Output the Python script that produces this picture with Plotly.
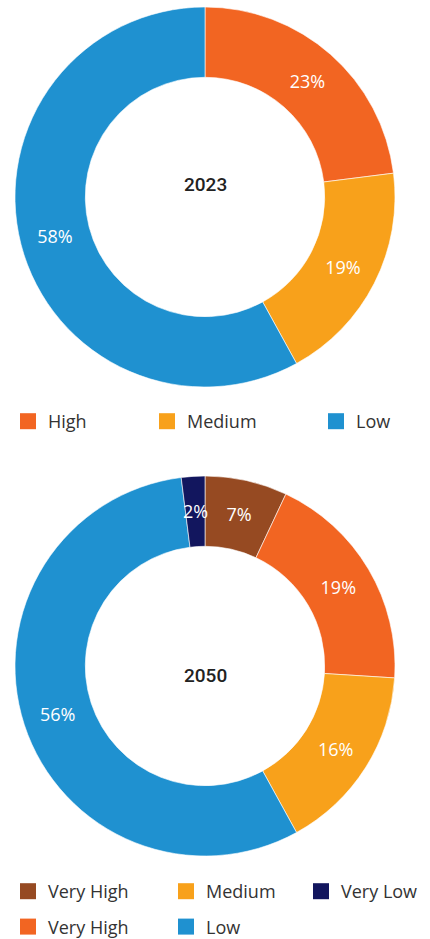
import math
import plotly.graph_objects as go

W, H = 430, 939

# Share of assets by risk level, 2023
labels_2023 = ["High", "Medium", "Low"]
values_2023 = [23, 19, 58]
colors_2023 = ["#F26522", "#F8A11B", "#1F91D0"]
legend_names_2023 = ["High", "Medium", "Low"]

# Share of assets by risk level, 2050
labels_2050 = ["Very High", "High", "Medium", "Low", "Very Low"]
values_2050 = [7, 19, 16, 56, 2]
colors_2050 = ["#964A22", "#F26522", "#F8A11B", "#1F91D0", "#12165E"]
legend_names_2050 = ["Very High", "Very High", "Medium", "Low", "Very Low"]

years = ["2023", "2050"]

SIZE = 380          # donut diameter, px
HOLE = 0.63
LEFT = 15           # left edge of both donuts, px
TOPS = [7, 476]     # top edge of each donut, px
TITLE_Y = [184.5, 675]
SMALL_SHARE = 0.03  # slices narrower than this get their label placed by hand
LABEL_SIZE = 18


def px_x(x):
    return x / W


def px_y(y):
    return 1 - y / H


def donut(labels, values, colors, top_px):
    total = sum(values)
    positions = ["inside" if v / total >= SMALL_SHARE else "none" for v in values]
    return go.Pie(
        labels=labels,
        values=values,
        marker=dict(colors=colors, line=dict(color="white", width=0.6)),
        hole=HOLE,
        sort=False,
        direction="clockwise",
        rotation=0,
        texttemplate="%{percent:.0%}",
        textposition=positions,
        insidetextorientation="horizontal",
        textfont=dict(family="Open Sans", size=LABEL_SIZE, color="white"),
        domain=dict(x=[px_x(LEFT), px_x(LEFT + SIZE)],
                    y=[px_y(top_px + SIZE), px_y(top_px)]),
        showlegend=False,
        hovertemplate="%{label}: %{percent:.0%}<extra></extra>",
    )


def small_slice_labels(values, top_px):
    """Labels for thin slices, centred on the ring at the slice's mid-angle."""
    total = sum(values)
    cx = LEFT + SIZE / 2
    cy = top_px + SIZE / 2
    r_mid = SIZE / 2 * (1 + HOLE) / 2
    notes = []
    start = 0
    for v in values:
        share = v / total
        if share < SMALL_SHARE:
            theta = 2 * math.pi * (start + share / 2)
            x = cx + r_mid * math.sin(theta)
            y = cy - r_mid * math.cos(theta)
            notes.append(dict(
                x=px_x(x), y=px_y(y), xref="paper", yref="paper",
                text=f"{share:.0%}", showarrow=False,
                xanchor="center", yanchor="middle",
                font=dict(family="Open Sans", size=LABEL_SIZE, color="white"),
            ))
        start += share
    return notes


fig = go.Figure()
fig.add_trace(donut(labels_2023, values_2023, colors_2023, TOPS[0]))
fig.add_trace(donut(labels_2050, values_2050, colors_2050, TOPS[1]))

annotations = []
annotations += small_slice_labels(values_2023, TOPS[0])
annotations += small_slice_labels(values_2050, TOPS[1])
for year, ty in zip(years, TITLE_Y):
    annotations.append(dict(
        x=px_x(LEFT + SIZE / 2), y=px_y(ty), xref="paper", yref="paper",
        text=year, showarrow=False, xanchor="center", yanchor="middle",
        font=dict(family="Roboto", size=19, weight=500, color="#222222"),
    ))


def legend_entry(name, color, legend, group):
    return go.Scatter(
        x=[None], y=[None], mode="markers", name=name,
        marker=dict(symbol="square", size=16, color=color),
        legend=legend, legendgroup=group, showlegend=True, hoverinfo="skip",
    )


legend_font = dict(family="Open Sans", size=18, color="#333333")


def legend_box(x_px, y_px):
    return dict(
        x=px_x(x_px), y=px_y(y_px), xanchor="left", yanchor="top",
        orientation="v", bgcolor="rgba(0,0,0,0)", borderwidth=0,
        font=legend_font, tracegroupgap=9, itemsizing="trace",
    )


# Legend for 2023: one row, three columns
cols_2023 = [8, 147, 316]
for i, (name, color) in enumerate(zip(legend_names_2023, colors_2023)):
    key = "legend" if i == 0 else f"legend{i + 1}"
    fig.add_trace(legend_entry(name, color, key, f"a{i}"))

# Legend for 2050: two rows, filled column by column
cols_2050 = [8, 166, 301]
for i, (name, color) in enumerate(zip(legend_names_2050, colors_2050)):
    key = f"legend{4 + i // 2}"
    fig.add_trace(legend_entry(name, color, key, f"b{i}"))

layout_legends = {}
for i, x in enumerate(cols_2023):
    key = "legend" if i == 0 else f"legend{i + 1}"
    layout_legends[key] = legend_box(x, 403)
for i, x in enumerate(cols_2050):
    layout_legends[f"legend{4 + i}"] = legend_box(x, 873)

fig.update_layout(
    width=W, height=H,
    margin=dict(l=0, r=0, t=0, b=0, autoexpand=False),
    paper_bgcolor="white", plot_bgcolor="white",
    xaxis=dict(visible=False), yaxis=dict(visible=False),
    annotations=annotations,
    **layout_legends,
)

fig.write_html("out.html")
